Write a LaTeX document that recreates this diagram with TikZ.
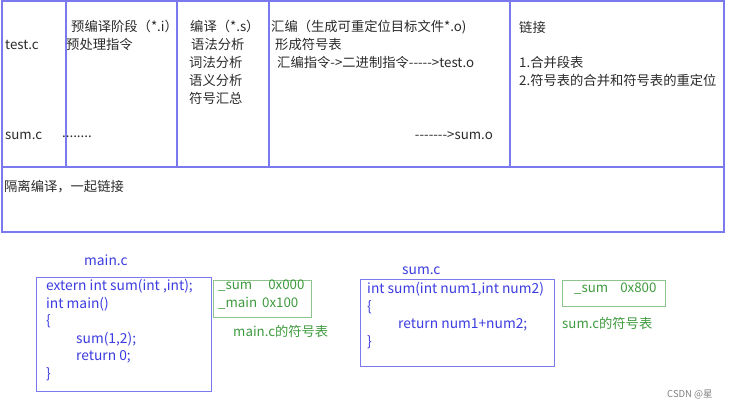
\documentclass[tikz,border=0pt]{standalone}
\usepackage{fontspec}
\setmainfont{Noto Sans CJK SC}[Ligatures=TeXOff]
\usetikzlibrary{positioning}
\definecolor{gridblue}{HTML}{7A7AEE}
\definecolor{codeblue}{HTML}{3C3CE0}
\definecolor{symgreen}{HTML}{3E9A3E}
\definecolor{symframe}{HTML}{8CC48C}
\definecolor{cellgray}{HTML}{2A2A2A}

\begin{document}
\begin{tikzpicture}[
    x=1pt, y=-1pt,
    every node/.style={inner sep=0pt, anchor=west},
    cell/.style={text=cellgray, font=\fontsize{13.3}{17.9}\selectfont, align=left},
    grid/.style={draw=gridblue, line width=1.1pt},
    code/.style={text=codeblue, font=\fontsize{13.8}{17.6}\selectfont, align=left},
    symtab/.style={draw=symframe, line width=0.9pt},
    symtext/.style={text=symgreen, font=\fontsize{13.3}{18}\selectfont, align=left}
]
\useasboundingbox (0,0) rectangle (741,410);

\draw[grid] (2,1) rectangle (724,232);
\draw[grid] (2,167) -- (724,167);
\foreach \x in {66,177,269,510} \draw[grid] (\x,1) -- (\x,167);

\node[cell] (testc) at (5,45) {test.c};
\node[cell] (sumc) at (5,136) {sum.c};
\node[cell, anchor=north west] (pre) at (66,20) {\hspace{5pt}预编译阶段（*.i）\\预处理指令};
\node[cell] (dots) at (62,137) {........};
\node[cell, anchor=north west] (comp) at (189,20) {\hspace{1pt}编译（*.s）\\\hspace{2pt}语法分析\\词法分析\\语义分析\\符号汇总};
\node[cell, anchor=north west] (asm) at (271,20) {汇编（生成可重定位目标文件*.o)\\\hspace{4pt}形成符号表\\\hspace{6pt}汇编指令->二进制指令----->test.o};
\node[cell, anchor=east] (sumo) at (493,136) {------->sum.o};
\node[cell] (link) at (519,27) {链接};
\node[cell, anchor=north west] (linkstep) at (519,56) {1.合并段表\\2.符号表的合并和符号表的重定位};
\node[cell] (sep) at (4,187) {隔离编译，一起链接};

\node[code] (mainname) at (84,260) {main.c};
\draw[draw=gridblue, line width=0.9pt] (36,277) rectangle (211,391);
\node[code, anchor=north west] (mainsrc) at (46,279) {extern int sum(int ,int);\\int main()\\\{\\\hspace{30pt}sum(1,2);\\\hspace{30pt}return 0;\\\}};
\draw[symtab] (213,280) rectangle (311,317);
\node[symtext, anchor=north west] (mainsym) at (218,280) {\_sum\hspace{16pt}0x000\\\_main\hspace{5pt}0x100};
\node[symtext] (mainsymname) at (233,331) {main.c的符号表};

\node[code] (sumname) at (402,271) {sum.c};
\draw[draw=gridblue, line width=0.9pt] (360,279) rectangle (554,366);
\node[code, anchor=north west] (sumsrc) at (367,282) {int sum(int num1,int num2)\\\{\\\hspace{31pt}return num1+num2;\\\}};
\draw[symtab] (562,280) rectangle (665,306);
\node[symtext] (sumsym) at (574,289) {\_sum\hspace{12pt}0x800};
\node[symtext] (sumsymname) at (562,323) {sum.c的符号表};

\node[text=gray, font=\fontsize{9.5}{11}\selectfont] (mark) at (667,395) {CSDN @星};
\end{tikzpicture}
\end{document}
